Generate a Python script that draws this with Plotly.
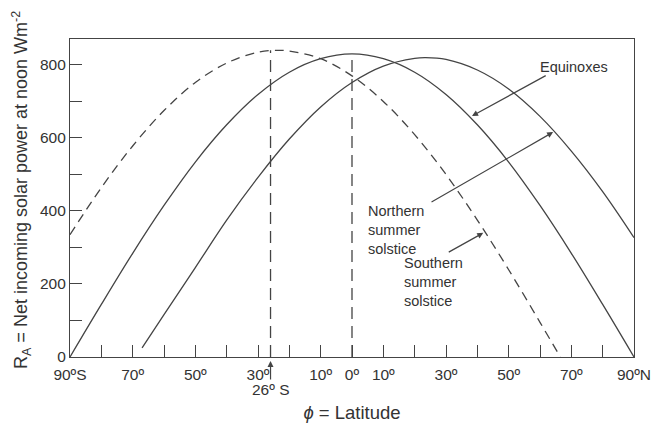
import plotly.graph_objects as go

# Latitudes (negative = South)
lat_eq = [-90, -80, -70, -60, -50, -40, -30, -20, -10, 0, 10, 20, 30, 40, 50, 60, 70, 80, 90]
equinox = [0, 144, 284, 415, 534, 636, 719, 780, 817, 830, 817, 780, 719, 636, 534, 415, 284, 144, 0]

lat_ns = [-67, -60, -50, -40, -30, -20, -10, 0, 10, 20, 23.5, 30, 40, 50, 60, 70, 80, 90]
north_summer = [25, 116, 245, 375, 492, 597, 685, 752, 797, 818, 820, 815, 786, 734, 659, 564, 453, 327]

lat_ss = [-90, -80, -70, -60, -50, -40, -30, -23.5, -20, -10, 0, 10, 20, 30, 40, 50, 60, 66.5]
south_summer = [335, 464, 578, 675, 752, 805, 835, 840, 838, 817, 770, 700, 609, 500, 375, 239, 95, 0]

x_tickvals = list(range(-90, 91, 10))
x_ticklabels = {-90: "90ºS", -70: "70º", -50: "50º", -30: "30º", -10: "10º", 0: "0º",
                10: "10º", 30: "30º", 50: "50º", 70: "70º", 90: "90ºN"}
y_tickvals = list(range(0, 801, 100))
y_ticklabels = {0: "0", 200: "200", 400: "400", 600: "600", 800: "800"}

marked_lat = -26
C = "#444444"
FONT = "Liberation Sans, Arial, sans-serif"

fig = go.Figure()
fig.add_trace(go.Scatter(x=lat_eq, y=equinox, mode="lines",
                         line=dict(color=C, width=1.3, shape="spline"), hoverinfo="skip"))
fig.add_trace(go.Scatter(x=lat_ns, y=north_summer, mode="lines",
                         line=dict(color=C, width=1.3, shape="spline"), hoverinfo="skip"))
fig.add_trace(go.Scatter(x=lat_ss, y=south_summer, mode="lines",
                         line=dict(color=C, width=1.3, shape="spline", dash="9px,6px"), hoverinfo="skip"))
# vertical dashed markers
fig.add_trace(go.Scatter(x=[marked_lat, marked_lat], y=[0, max(south_summer)], mode="lines",
                         line=dict(color=C, width=1.3, dash="12px,7px"), hoverinfo="skip"))
fig.add_trace(go.Scatter(x=[0, 0], y=[0, max(equinox)], mode="lines",
                         line=dict(color=C, width=1.3, dash="12px,7px"), hoverinfo="skip"))

ann_font = dict(family=FONT, size=14.5, color="#333333")
annotations = [
    dict(x=38.3, y=660, ax=62.3, ay=773, xref="x", yref="y", axref="x", ayref="y",
         text="", showarrow=True, arrowhead=2, arrowsize=1, arrowwidth=1.2, arrowcolor=C),
    dict(x=71, y=795, xref="x", yref="y", text="Equinoxes", showarrow=False, font=ann_font),
    dict(x=64.2, y=616, ax=24.9, ay=422, xref="x", yref="y", axref="x", ayref="y",
         text="", showarrow=True, arrowhead=2, arrowsize=1, arrowwidth=1.2, arrowcolor=C),
    dict(x=4.6, y=428, xref="x", yref="y", text="Northern<br>summer<br>solstice", showarrow=False,
         xanchor="left", yanchor="top", align="left", font=ann_font),
    dict(x=41.9, y=340, ax=30.4, ay=285, xref="x", yref="y", axref="x", ayref="y",
         text="", showarrow=True, arrowhead=2, arrowsize=1, arrowwidth=1.2, arrowcolor=C),
    dict(x=15.8, y=285, xref="x", yref="y", text="Southern<br>summer<br>solstice", showarrow=False,
         xanchor="left", yanchor="top", align="left", font=ann_font),
    # 26 S arrow below axis
    dict(x=marked_lat, y=0, xref="x", yref="y", ax=0, ay=24, text="", showarrow=True,
         arrowhead=2, arrowsize=1, arrowwidth=1.2, arrowcolor=C, standoff=4),
    dict(x=marked_lat, y=0, xref="x", yref="y", yshift=-32, text="26º S", showarrow=False,
         font=dict(family=FONT, size=15.5, color="#333333")),
    # y-axis title
    dict(x=-0.087, y=0.525, xref="paper", yref="paper", xanchor="center", yanchor="middle",
         textangle=-90, showarrow=False,
         text="R<sub>A</sub> = Net incoming solar power at noon Wm<sup>-2</sup>",
         font=dict(family=FONT, size=18, color="#333333")),
]

fig.update_layout(
    width=658, height=424,
    margin=dict(l=70, r=24, t=39, b=67),
    paper_bgcolor="white", plot_bgcolor="white",
    showlegend=False,
    font=dict(family=FONT, size=15.5, color="#333333"),
    annotations=annotations,
    xaxis=dict(range=[-90, 90], tickmode="array", tickvals=x_tickvals,
               ticktext=[x_ticklabels.get(v, "") for v in x_tickvals],
               ticks="inside", ticklen=12, tickwidth=1, tickcolor=C,
               ticklabelstandoff=3, automargin=False,
               showline=True, linecolor=C, linewidth=1.2, mirror=True,
               showgrid=False, zeroline=False,
               title=dict(text="<i>ϕ</i> = Latitude", font=dict(size=18.5), standoff=24)),
    yaxis=dict(range=[0, 871], tickmode="array", tickvals=y_tickvals,
               ticktext=[y_ticklabels.get(v, "") for v in y_tickvals],
               ticks="inside", ticklen=12, tickwidth=1, tickcolor=C,
               automargin=False,
               showline=True, linecolor=C, linewidth=1.2, mirror=True,
               showgrid=False, zeroline=False),
)

fig.write_html("out.html")
